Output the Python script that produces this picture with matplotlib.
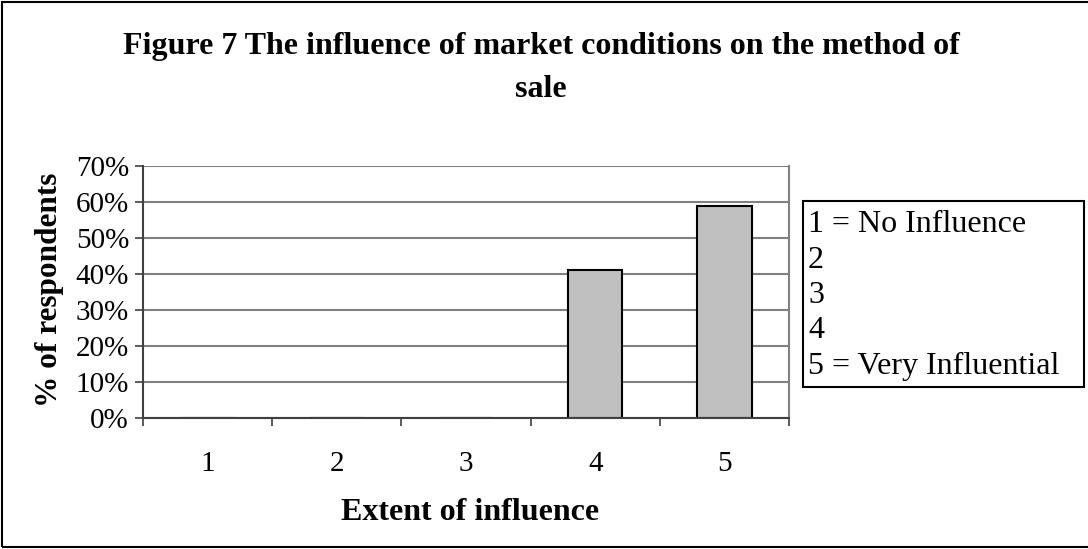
import matplotlib
matplotlib.use("Agg")
import matplotlib.pyplot as plt
from matplotlib.patches import Rectangle
from matplotlib.ticker import PercentFormatter

categories = ["1", "2", "3", "4", "5"]
values = [0, 0, 0, 41, 59]
yticks = [0, 10, 20, 30, 40, 50, 60, 70]
legend_lines = ["1 = No Influence", "2", "3", "4", "5 = Very Influential"]
title = "Figure 7 The influence of market conditions on the method of\nsale"
xlabel = "Extent of influence"
ylabel = "% of respondents"

W, H = 1088, 549
plt.rcParams['font.family'] = ['Liberation Serif', 'DejaVu Serif']
fig = plt.figure(figsize=(W / 100, H / 100), dpi=100)

def fx(px):
    return px / W

def fy(py):
    return 1 - py / H

ax = fig.add_axes([fx(143), fy(418), fx(789) - fx(143), fy(166) - fy(418)])
x = list(range(1, len(categories) + 1))
ax.bar(x, values, width=0.42, color="#c0c0c0", edgecolor="black", linewidth=1.5, zorder=3)
ax.set_xlim(0.5, len(categories) + 0.5)
ax.set_ylim(0, 70)
ax.set_yticks(yticks)
ax.yaxis.set_major_formatter(PercentFormatter(decimals=0))
ax.yaxis.grid(True, color="#808080", linewidth=1.5, zorder=0)
ax.set_axisbelow(True)

ax.set_xticks([i + 0.5 for i in range(len(categories) + 1)])
ax.set_xticklabels([])
ax.set_xticks(x, minor=True)
ax.set_xticklabels(categories, minor=True, fontsize=21)
ax.tick_params(axis="x", which="minor", length=0, pad=24)
ax.tick_params(axis="x", which="major", length=6, width=1.2, color="#404040", direction="out")
ax.tick_params(axis="y", length=6, width=1.2, color="#404040", direction="out", labelsize=21, pad=4)

ax.spines["top"].set_visible(False)
ax.spines["right"].set_color("#808080")
ax.spines["right"].set_linewidth(1.5)
ax.spines["left"].set_color("#404040")
ax.spines["left"].set_linewidth(1.5)
ax.spines["bottom"].set_color("#404040")
ax.spines["bottom"].set_linewidth(1.5)
ax.spines["bottom"].set_zorder(4)

fig.text(fx(541), fy(68), title, ha="center", va="center", fontsize=23,
         fontweight="bold", linespacing=1.65)
fig.text(fx(470), fy(512), xlabel, ha="center", va="center", fontsize=23, fontweight="bold")
fig.text(fx(50), fy(290), ylabel, ha="center", va="center", rotation=90,
         fontsize=22.5, fontweight="bold")

# legend box
fig.add_artist(Rectangle((fx(803), fy(387)), fx(1084) - fx(803), fy(201) - fy(387),
                         transform=fig.transFigure, fill=False, edgecolor="black", linewidth=1.5))
for i, line in enumerate(legend_lines):
    fig.text(fx(808), fy(225 + i * 35.3), line, ha="left", va="center", fontsize=23)

# outer border
fig.add_artist(Rectangle((fx(2), fy(547)), fx(1095) - fx(2), fy(2) - fy(547),
                         transform=fig.transFigure, fill=False, edgecolor="black", linewidth=1.5))

fig.savefig("out.png", dpi=100)
